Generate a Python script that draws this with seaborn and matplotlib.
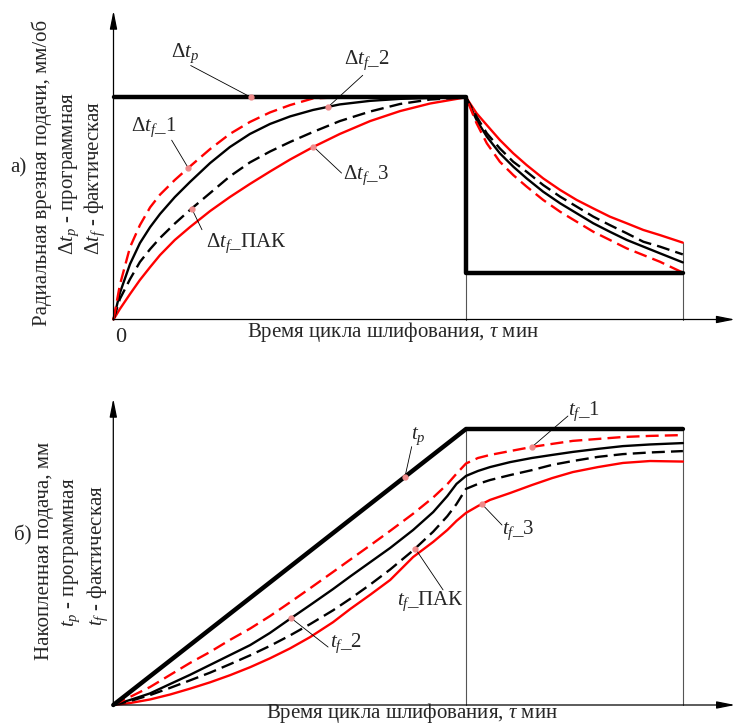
import matplotlib
matplotlib.use('Agg')
import matplotlib.pyplot as plt
import seaborn as sns

sns.set_style('white')
plt.rcParams['font.family'] = ['Liberation Serif', 'DejaVu Serif']
plt.rcParams['mathtext.fontset'] = 'custom'
plt.rcParams['mathtext.rm'] = 'Liberation Serif'
plt.rcParams['mathtext.it'] = 'Liberation Serif:italic'

# ---- panel a) radial feed rate (program step + actual curves)
# feed stage ends at t=10, spark-out ends at t=16.15; feed normalised to program feed
t_a = [0, 0.18, 0.47, 0.75, 1.04, 1.32, 1.74, 2.17, 2.74, 3.30, 3.87, 4.44, 5.01, 5.66,
       6.42, 7.28, 8.13, 8.98, 10.0,
       10.30, 10.59, 10.96, 11.34, 11.72, 12.19, 12.67, 13.14, 13.61, 14.08, 14.56,
       15.03, 15.50, 16.15]
feed_f1 = [0, 0.155, 0.326, 0.425, 0.505, 0.562, 0.628, 0.689, 0.767, 0.835, 0.889, 0.932,
           0.965, 0.995, 1.0, 1.0, 1.0, 1.0, 1.0,
           0.883, 0.793, 0.710, 0.650, 0.598, 0.538, 0.485, 0.440, 0.395, 0.358, 0.320,
           0.290, 0.260, 0.211]
feed_f2 = [0, 0.119, 0.250, 0.344, 0.416, 0.475, 0.551, 0.619, 0.704, 0.776, 0.835, 0.880,
           0.914, 0.943, 0.968, 0.984, 0.993, 0.997, 1.0,
           0.898, 0.823, 0.748, 0.688, 0.635, 0.575, 0.523, 0.478, 0.433, 0.395, 0.358,
           0.328, 0.298, 0.257]
feed_pak = [0, 0.092, 0.182, 0.259, 0.317, 0.367, 0.432, 0.493, 0.569, 0.644, 0.707, 0.756,
            0.799, 0.844, 0.893, 0.936, 0.970, 0.990, 1.0,
            0.913, 0.838, 0.770, 0.710, 0.665, 0.605, 0.553, 0.508, 0.463, 0.425, 0.388,
            0.350, 0.328, 0.293]
feed_f3 = [0, 0.047, 0.115, 0.178, 0.236, 0.290, 0.358, 0.416, 0.488, 0.551, 0.610, 0.666,
           0.720, 0.776, 0.835, 0.893, 0.938, 0.972, 1.0,
           0.928, 0.875, 0.808, 0.748, 0.695, 0.635, 0.583, 0.538, 0.500, 0.463, 0.433,
           0.403, 0.380, 0.346]
t_prog_a = [0, 10.0, 10.0, 16.15]
feed_prog = [1.0, 1.0, 0.209, 0.209]

labels_a = [r'$\Delta t_p$', r'$\Delta t_f$_1', r'$\Delta t_f$_2', r'$\Delta t_f$_3', r'$\Delta t_f$_ПАК']
text_a = [(1.62, 1.20), (0.51, 0.865), (6.55, 1.166), (6.5, 0.650), (2.62, 0.341)]
lead_a = [(2.19, 1.143), (1.65, 0.807), (7.07, 1.099), (6.47, 0.659), (2.51, 0.404)]
dot_a = [(3.90, 1.0), (2.12, 0.682), (6.09, 0.957), (5.67, 0.778), (2.22, 0.499)]

# ---- panel b) accumulated feed, normalised to programmed total
t_b = [0, 0.47, 1.04, 1.61, 2.17, 2.74, 3.31, 3.88, 4.44, 5.01, 5.58, 6.23, 6.72, 7.29,
       7.85, 8.50, 9.07, 9.47, 9.73, 10.0,
       10.34, 10.68, 11.25, 11.87, 12.44, 13.03, 13.74, 14.45, 15.22, 16.15]
acc_f1 = [0, 0.029, 0.065, 0.109, 0.152, 0.192, 0.236, 0.277, 0.322, 0.372, 0.423, 0.482,
          0.527, 0.579, 0.631, 0.693, 0.752, 0.800, 0.838, 0.875,
          0.895, 0.906, 0.920, 0.935, 0.946, 0.957, 0.964, 0.971, 0.975, 0.978]
acc_f2 = [0, 0.018, 0.042, 0.076, 0.109, 0.145, 0.181, 0.217, 0.261, 0.312, 0.362, 0.420,
          0.466, 0.518, 0.569, 0.634, 0.699, 0.757, 0.801, 0.830,
          0.848, 0.862, 0.880, 0.895, 0.906, 0.917, 0.928, 0.938, 0.944, 0.949]
acc_pak = [0, 0.014, 0.036, 0.062, 0.089, 0.117, 0.148, 0.180, 0.214, 0.252, 0.293, 0.343,
           0.385, 0.437, 0.491, 0.560, 0.628, 0.684, 0.728, 0.783,
           0.801, 0.815, 0.833, 0.851, 0.870, 0.884, 0.899, 0.909, 0.915, 0.920]
acc_f3 = [0, 0.007, 0.020, 0.038, 0.059, 0.082, 0.108, 0.137, 0.169, 0.205, 0.246, 0.300,
          0.348, 0.400, 0.453, 0.536, 0.591, 0.634, 0.667, 0.696,
          0.721, 0.743, 0.768, 0.797, 0.822, 0.844, 0.862, 0.877, 0.884, 0.882]
t_prog_b = [0, 10.0, 16.15]
acc_prog = [0, 1.0, 1.0]

labels_b = [r'$t_p$', r'$t_f$_1', r'$t_f$_2', r'$t_f$_3', r'$t_f$_ПАК']
text_b = [(8.44, 0.975), (12.89, 1.065), (6.15, 0.225), (11.02, 0.634), (8.05, 0.377)]
lead_b = [(8.46, 0.936), (12.89, 1.047), (6.09, 0.210), (11.02, 0.652), (9.35, 0.417)]
dot_b = [(8.27, 0.827), (11.87, 0.935), (5.04, 0.315), (10.45, 0.728), (8.56, 0.567)]

W, H = 736, 726
RED = '#ff0000'
DASH = (0, (5.5, 2.6))
FS = 15
fig = plt.figure(figsize=(W / 100, H / 100), dpi=100)


def add_panel(origin, sx, sy, xlim, ylim):
    ox, oy = origin
    left = ox + xlim[0] * sx
    right = ox + xlim[1] * sx
    top = oy - ylim[1] * sy
    bottom = oy - ylim[0] * sy
    ax = fig.add_axes([left / W, 1 - bottom / H, (right - left) / W, (bottom - top) / H])
    ax.set_xlim(xlim)
    ax.set_ylim(ylim)
    ax.axis('off')
    return ax


def draw_axes(ax, x_tip, y_tip):
    arr = dict(arrowstyle='-|>,head_length=1.1,head_width=0.22', color='black', lw=0.9,
               shrinkA=0, shrinkB=0)
    ax.annotate('', xy=(x_tip, 0), xytext=(0, 0), arrowprops=arr)
    ax.annotate('', xy=(0, y_tip), xytext=(0, 0), arrowprops=arr)


def draw_curves(ax, t, curves):
    # curves: (values, color, dashed)
    for vals, color, dashed in curves:
        sns.lineplot(x=t, y=vals, ax=ax, color=color, lw=1.7, estimator=None, sort=False,
                     linestyle=DASH if dashed else '-', clip_on=False)


def draw_labels(ax, labels, text_pos, lead, dots):
    for s, tp, ld, dt in zip(labels, text_pos, lead, dots):
        ax.text(tp[0], tp[1], s, fontsize=FS, ha='left', va='center')
        ax.plot([ld[0], dt[0]], [ld[1], dt[1]], color='black', lw=0.6)
        ax.plot([dt[0]], [dt[1]], 'o', ms=3.5, color='#f08a8a', zorder=6)


# a)
ax1 = add_panel((113.5, 319.5), 35.25, 222.2, (-0.5, 18.0), (-0.1, 1.45))
draw_axes(ax1, 17.63, 1.39)
ax1.plot([10.0, 10.0], [0, 0.209], color='#555555', lw=0.8)
ax1.plot([16.15, 16.15], [0, 0.346], color='#555555', lw=0.8)
draw_curves(ax1, t_a, [(feed_f3, RED, False), (feed_pak, 'black', True),
                       (feed_f2, 'black', False), (feed_f1, RED, True)])
sns.lineplot(x=t_prog_a, y=feed_prog, ax=ax1, color='black', lw=3.2, estimator=None,
             sort=False, clip_on=False)
draw_labels(ax1, labels_a, text_a, lead_a, dot_a)
ax1.text(0.2, -0.08, '0', fontsize=16, ha='center', va='center')
ax1.text(7.93, -0.056, 'Время цикла шлифования, $\\tau$ мин', fontsize=FS, ha='center', va='center')

# b)
ax2 = add_panel((113.3, 705), 35.27, 276, (-0.5, 18.0), (-0.1, 1.13))
draw_axes(ax2, 17.63, 1.11)
ax2.plot([10.0, 10.0], [0, 1.0], color='#555555', lw=0.8)
ax2.plot([16.15, 16.15], [0, 1.0], color='#555555', lw=0.8)
draw_curves(ax2, t_b, [(acc_f3, RED, False), (acc_pak, 'black', True),
                       (acc_f2, 'black', False), (acc_f1, RED, True)])
sns.lineplot(x=t_prog_b, y=acc_prog, ax=ax2, color='black', lw=3.2, estimator=None,
             sort=False, clip_on=False)
draw_labels(ax2, labels_b, text_b, lead_b, dot_b)
ax2.text(8.47, -0.071, 'Время цикла шлифования, $\\tau$ мин', fontsize=FS, ha='center', va='bottom')

# side captions
fig.text(18 / W, 1 - 168 / H, 'а)', fontsize=FS, ha='center', va='center')
fig.text(42 / W, 1 - 173 / H, 'Радиальная врезная подачи, мм/об', fontsize=FS,
         rotation=90, ha='center', va='center')
fig.text(69 / W, 1 - 174 / H, r'$\Delta t_p$ - программная', fontsize=FS,
         rotation=90, ha='center', va='center')
fig.text(95 / W, 1 - 178 / H, r'$\Delta t_f$ - фактическая', fontsize=FS,
         rotation=90, ha='center', va='center')

fig.text(23 / W, 1 - 535 / H, 'б)', fontsize=FS, ha='center', va='center')
fig.text(45 / W, 1 - 551 / H, 'Накопленная подача, мм', fontsize=FS,
         rotation=90, ha='center', va='center')
fig.text(71 / W, 1 - 552 / H, r'$t_p$ - программная', fontsize=FS,
         rotation=90, ha='center', va='center')
fig.text(98 / W, 1 - 556 / H, r'$t_f$ - фактическая', fontsize=FS,
         rotation=90, ha='center', va='center')

fig.savefig('out.png', dpi=100, facecolor='white')
